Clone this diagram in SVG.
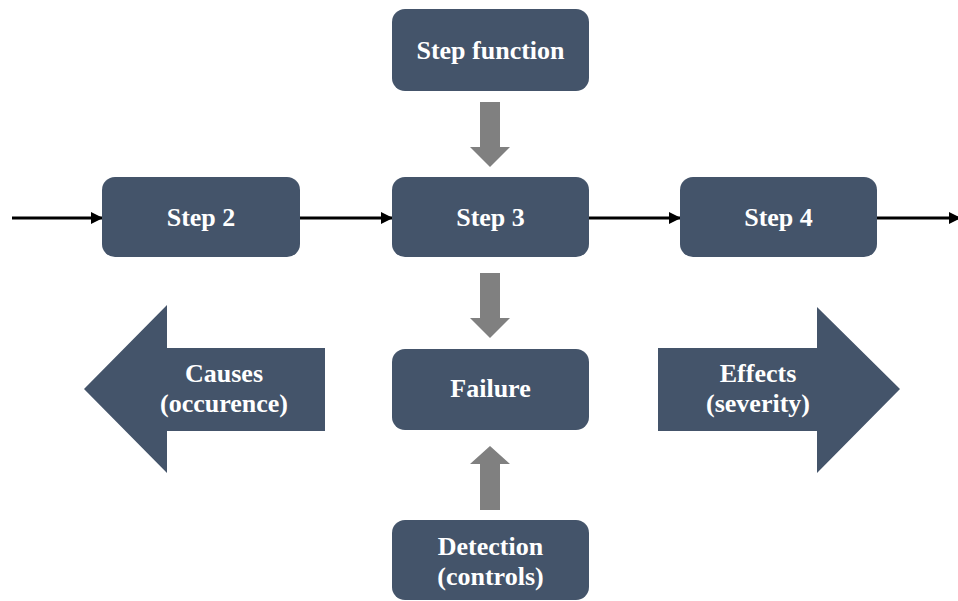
<svg xmlns="http://www.w3.org/2000/svg" width="958" height="601" viewBox="0 0 958 601">
  <style>
    .box { fill: #44546A; }
    .label { fill: #FFFFFF; font-family: "Liberation Serif", "Times New Roman", Times, serif; font-weight: bold; font-size: 26px; text-anchor: middle; }
    .flow { stroke: #000000; stroke-width: 3; fill: none; marker-end: url(#head); }
    .block { fill: #808080; }
  </style>
  <defs>
    <marker id="head" viewBox="0 0 12 12" refX="11" refY="6" markerWidth="12" markerHeight="13" markerUnits="userSpaceOnUse" orient="auto">
      <path d="M0,0 L12,6 L0,12 Z" fill="#000000"/>
    </marker>
  </defs>
  <rect width="958" height="601" fill="#FFFFFF"/>

  <!-- process flow connectors -->
  <g id="connectors">
    <line class="flow" x1="12" y1="218" x2="102" y2="218"/>
    <line class="flow" x1="300" y1="218" x2="392" y2="218"/>
    <line class="flow" x1="589" y1="218" x2="680" y2="218"/>
    <line class="flow" x1="877" y1="218" x2="960" y2="218"/>
    <!-- block arrows into and out of the centre column -->
    <path class="block" d="M480,102 H500 V147 H510 L490,167 L470,147 H480 Z"/>
    <path class="block" d="M480,273 H500 V318 H510 L490,338 L470,318 H480 Z"/>
    <path class="block" d="M480,510 H500 V464 H510 L490,446 L470,464 H480 Z"/>
  </g>

  <g id="step-function">
    <rect class="box" x="392" y="9" width="197" height="82" rx="13"/>
    <text class="label" x="490.5" y="59">Step function</text>
  </g>

  <g id="step-2">
    <rect class="box" x="102" y="177" width="198" height="80" rx="13"/>
    <text class="label" x="201" y="226">Step 2</text>
  </g>

  <g id="step-3">
    <rect class="box" x="392" y="177" width="197" height="80" rx="13"/>
    <text class="label" x="490.5" y="226">Step 3</text>
  </g>

  <g id="step-4">
    <rect class="box" x="680" y="177" width="197" height="80" rx="13"/>
    <text class="label" x="778.5" y="226">Step 4</text>
  </g>

  <g id="failure">
    <rect class="box" x="392" y="349" width="197" height="81" rx="13"/>
    <text class="label" x="490.5" y="397">Failure</text>
  </g>

  <g id="detection">
    <rect class="box" x="392" y="520" width="197" height="80" rx="13"/>
    <text class="label" x="490.5" y="555">Detection</text>
    <text class="label" x="490.5" y="585">(controls)</text>
  </g>

  <g id="causes">
    <path class="box" d="M325,348 V431 H167 V473 L84,389 L167,305 V348 Z"/>
    <text class="label" x="224" y="382">Causes</text>
    <text class="label" x="224" y="412">(occurence)</text>
  </g>

  <g id="effects">
    <path class="box" d="M658,348 H817 V307 L900,389 L817,473 V431 H658 Z"/>
    <text class="label" x="758" y="382">Effects</text>
    <text class="label" x="758" y="412">(severity)</text>
  </g>
</svg>
